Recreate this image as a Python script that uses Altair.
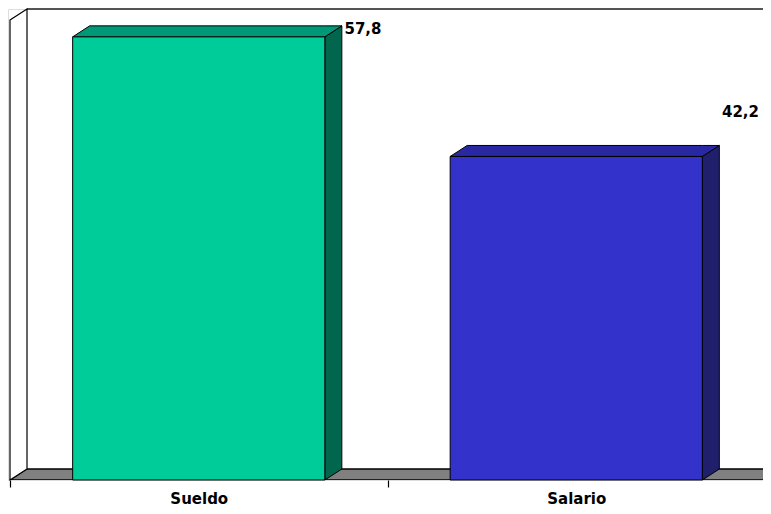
import altair as alt
import pandas as pd

# ---- data ----
categories = ["Sueldo", "Salario"]
values = [57.8, 42.2]
value_labels = ["57,8", "42,2"]
front_colors = ["#00CC99", "#3333CC"]
top_colors = ["#009977", "#2828A3"]
side_colors = ["#00664D", "#1F1F6B"]
axis_max = 60

# ---- layout / styling constants ----
W, H = 755, 471
PAD = {"top": 1, "left": 0, "right": 0, "bottom": 26}
X_RANGE = [2, 757]
n = len(categories)
px_per_x = (X_RANGE[1] - X_RANGE[0]) / n
DEPTH_PX_X, DEPTH_PX_Y = 17, 11
dx = DEPTH_PX_X / px_per_x
ytop = axis_max / (1 - DEPTH_PX_Y / H)
dv = ytop - axis_max
half = 0.334  # half width of a bar, in category units
LABEL_DX = 0.435
LABEL_DY = 5.8

xq = alt.X("x:Q", scale=alt.Scale(domain=[0, n], range=X_RANGE), axis=None)
yscale = alt.Scale(domain=[0, ytop], nice=False, zero=False)
yq = alt.Y("y:Q", scale=yscale, axis=None)
y2q = alt.Y2("y2:Q")

# floor polygon
floor = pd.DataFrame({
    "x": [0, dx, n, n + dx],
    "y": [0, dv, dv, dv],
    "y2": [0, 0, 0, dv],
})
# left wall polygon
wall = pd.DataFrame({
    "x": [0, dx],
    "y": [axis_max, ytop],
    "y2": [0, dv],
})
# back wall top edge
back_top = pd.DataFrame({"x": [dx], "x2": [n + dx], "y": [ytop]})

side_rows, top_rows, bar_rows, lab_rows = [], [], [], []
for i, (cat, v) in enumerate(zip(categories, values)):
    c = i + 0.5
    side_rows += [
        {"g": cat, "x": c + half, "y": v, "y2": 0, "fill": side_colors[i]},
        {"g": cat, "x": c + half + dx, "y": v + dv, "y2": dv, "fill": side_colors[i]},
    ]
    top_rows += [
        {"g": cat, "x": c - half, "y": v, "y2": v, "fill": top_colors[i]},
        {"g": cat, "x": c - half + dx, "y": v + dv, "y2": v, "fill": top_colors[i]},
        {"g": cat, "x": c + half, "y": v + dv, "y2": v, "fill": top_colors[i]},
        {"g": cat, "x": c + half + dx, "y": v + dv, "y2": v + dv, "fill": top_colors[i]},
    ]
    bar_rows.append({"cat": cat, "v": v, "fill": front_colors[i]})
    lab_rows.append({"x": c + LABEL_DX, "y": min(v + LABEL_DY, ytop - 2.6), "t": value_labels[i]})

side = pd.DataFrame(side_rows)
top = pd.DataFrame(top_rows)
bars = pd.DataFrame(bar_rows)
labs = pd.DataFrame(lab_rows)

floor_l = alt.Chart(floor).mark_area(
    fill="#808080", stroke="black", strokeWidth=1.3, clip=True, interpolate="linear"
).encode(x=xq, y=yq, y2=y2q)

wall_l = alt.Chart(wall).mark_area(
    fill="white", stroke="black", strokeWidth=1.2, interpolate="linear"
).encode(x=xq, y=yq, y2=y2q)

back_l = alt.Chart(back_top).mark_rule(color="#555555", strokeWidth=2).encode(
    x=xq, x2=alt.X2("x2:Q"), y=yq
)

side_l = alt.Chart(side).mark_area(stroke="black", strokeWidth=1, interpolate="linear").encode(
    x=xq, y=yq, y2=y2q, detail="g:N", color=alt.Color("fill:N", scale=None)
)
top_l = alt.Chart(top).mark_area(stroke="black", strokeWidth=1, interpolate="linear").encode(
    x=xq, y=yq, y2=y2q, detail="g:N", color=alt.Color("fill:N", scale=None)
)

front_l = alt.Chart(bars).mark_bar(
    stroke="black", strokeWidth=1, width={"band": 2 * half}, opacity=1
).encode(
    x=alt.X(
        "cat:N", sort=categories,
        scale=alt.Scale(range=X_RANGE, paddingInner=0, paddingOuter=0, round=False),
        axis=alt.Axis(
            title=None, labelAngle=0, tickBand="extent", tickSize=7, tickColor="black",
            tickWidth=1.2, domain=False, grid=False, labelFont="DejaVu Sans",
            labelFontWeight="bold", labelFontSize=15, labelColor="black", labelPadding=4,
        ),
    ),
    y=alt.Y("v:Q", scale=yscale, axis=None),
    color=alt.Color("fill:N", scale=None),
)

text_l = alt.Chart(labs).mark_text(
    align="center", baseline="middle", font="DejaVu Sans", fontWeight="bold",
    fontSize=15, color="black"
).encode(x=xq, y=yq, text="t:N")

chart = alt.layer(floor_l, back_l, wall_l, side_l, top_l, front_l, text_l).resolve_scale(
    x="independent"
).properties(
    width=W, height=H,
    padding=PAD,
    autosize=alt.AutoSizeParams(type="none"),
).configure_view(stroke=None).configure(background="white")

chart.save("out.html", embed_options={"renderer": "svg", "actions": False})
